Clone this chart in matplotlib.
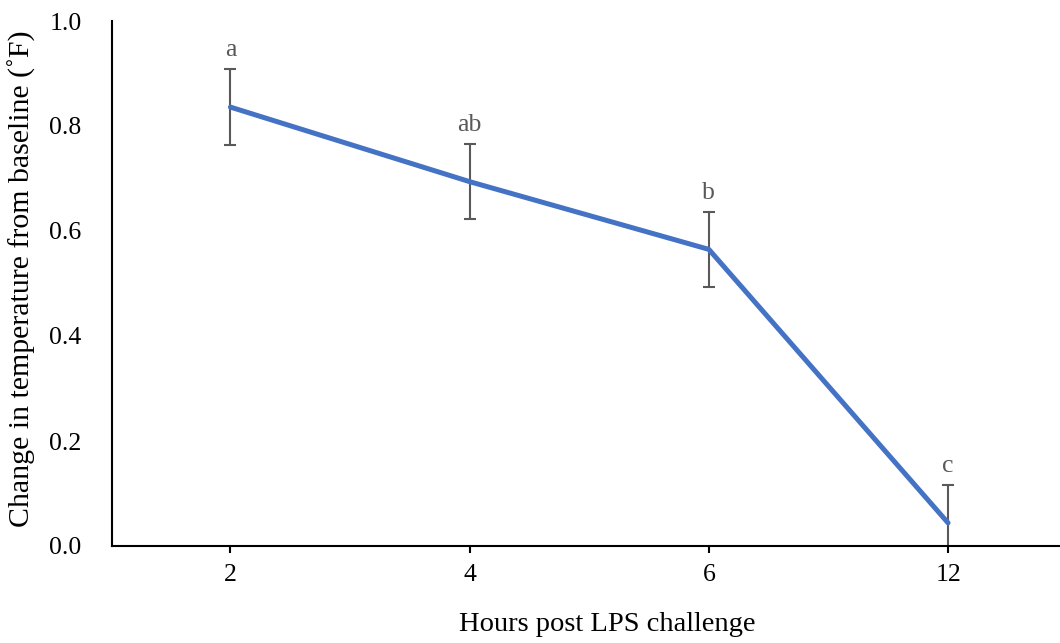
import matplotlib.pyplot as plt
import numpy as np

hours = ["2", "4", "6", "12"]
change = [0.836, 0.694, 0.565, 0.044]
sem = [0.072, 0.0715, 0.0715, 0.072]
letters = ["a", "ab", "b", "c"]

plt.rcParams['font.family'] = ['Liberation Serif', 'DejaVu Serif']

fig = plt.figure(figsize=(10.6, 6.43), dpi=100)
ax = fig.add_axes([112 / 1060, 97 / 643, 948 / 1060, 525 / 643])

x = np.arange(len(hours))
ax.errorbar(x, change, yerr=sem, fmt="none", ecolor="#595959",
            elinewidth=1.5, capsize=4.5, capthick=1.5, zorder=2)
ax.plot(x, change, color="#4472C4", linewidth=3.6, zorder=3,
        solid_capstyle="round")

for xi, yi, ei, lab in zip(x, change, sem, letters):
    ax.annotate(lab, (xi, yi + ei), xytext=(0, 6), textcoords="offset points",
                ha="center", va="bottom", fontsize=18.5, color="#595959")

ax.set_xlim(-0.495, 3.468)
ax.set_ylim(0, 1.0)
ax.set_xticks(x)
ax.set_xticklabels(hours)
ax.set_yticks(np.arange(0, 1.01, 0.2))
ax.set_yticklabels([f"{v:.1f}" for v in np.arange(0, 1.01, 0.2)])

ax.spines["top"].set_visible(False)
ax.spines["right"].set_visible(False)
ax.spines["left"].set_linewidth(1.5)
ax.spines["bottom"].set_linewidth(1.5)
ax.tick_params(axis="y", length=0, pad=22, labelsize=18.5)
ax.tick_params(axis="x", direction="out", length=5, width=1.5, pad=8, labelsize=18.5)

ax.set_xlabel("Hours post LPS challenge", fontsize=20.5)
ax.set_ylabel("Change in temperature from baseline (˚F)", fontsize=21.5)
ax.xaxis.set_label_coords(0.522, -0.125)
ax.yaxis.set_label_coords(-0.080, 0.51)

fig.savefig("out.png", dpi=100)
